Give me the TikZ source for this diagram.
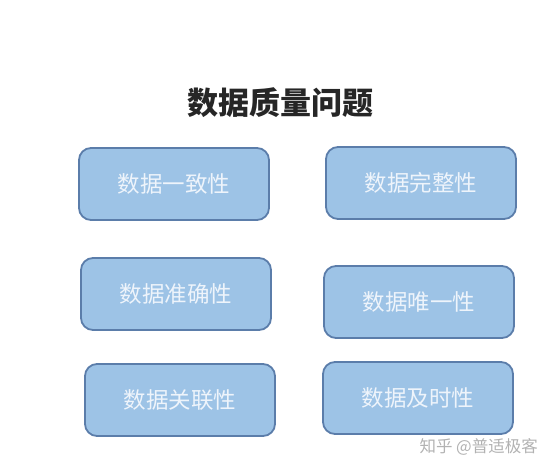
\documentclass[tikz,border=0pt]{standalone}
\usepackage{fontspec}
\usepackage{tikz}
\newfontfamily\cjk{Noto Sans CJK SC}
\definecolor{boxfill}{HTML}{9DC3E6}
\definecolor{boxline}{HTML}{5B7DAA}
\definecolor{boxtext}{HTML}{EEF4FB}

\begin{document}
\begin{tikzpicture}[x=1pt,y=-1pt,
	box/.style={draw=boxline, line width=1.8pt, fill=boxfill, rounded corners=12pt,
		minimum width=190pt, minimum height=72pt, inner sep=0pt,
		text=boxtext, font=\cjk\fontsize{22.5}{22.5}\selectfont},
	title/.style={font=\cjk\bfseries\fontsize{31}{31}\selectfont, text=black!85}]
	
	\useasboundingbox (0,0) rectangle (551,470);
	
	\node[title] (Title) at (280,103) {数据质量问题};
	
	\node[box] (Consist) at (174,184) {数据一致性};
	\node[box] (Complete) at (421,183) {数据完整性};
	\node[box] (Accurate) at (176,294) {数据准确性};
	\node[box] (Unique) at (419,302) {数据唯一性};
	\node[box] (Related) at (180,400) {数据关联性};
	\node[box] (Timely) at (418,398) {数据及时性};
	
	\node[font=\cjk\fontsize{16.5}{16.5}\selectfont, text=black!30, anchor=west] (Mark) at (416,447) {知乎 @普适极客};
	
\end{tikzpicture}
\end{document}
